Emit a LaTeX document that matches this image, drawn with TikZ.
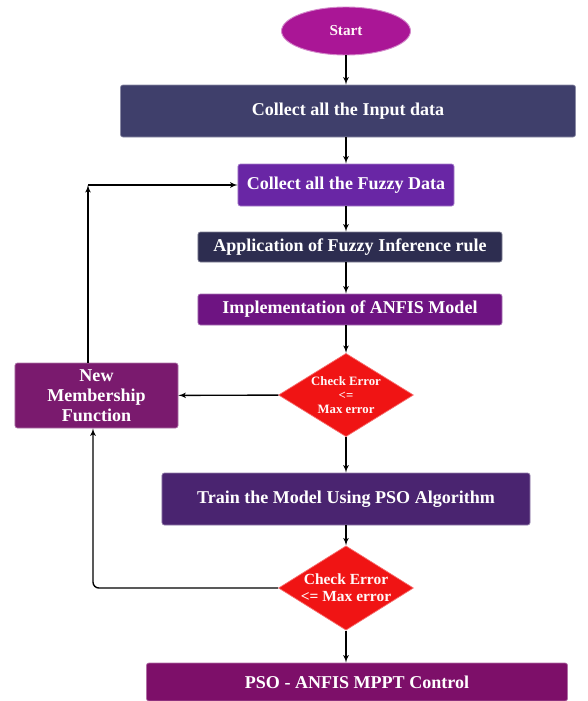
\documentclass[tikz,border=0pt]{standalone}
\usepackage{fontspec}
\setmainfont{Liberation Serif}
\usepackage{tikz}
\usetikzlibrary{arrows, shapes.geometric}

\definecolor{startc}{RGB}{170,22,150}
\definecolor{inputc}{RGB}{63,63,107}
\definecolor{fuzzyc}{RGB}{105,38,165}
\definecolor{inferc}{RGB}{45,45,80}
\definecolor{anfisc}{RGB}{110,20,130}
\definecolor{checkc}{RGB}{240,20,20}
\definecolor{nmfc}{RGB}{122,26,110}
\definecolor{trainc}{RGB}{74,36,112}
\definecolor{finalc}{RGB}{125,15,105}

\begin{document}
\begin{tikzpicture}[->, >=latex', line width = 1.2pt, x = 0.03cm, y = -0.03cm,
                    font = \bfseries\fontsize{15.4}{17}\selectfont]
  \tikzstyle{block} = [rectangle, rounded corners = 2pt, text = white, inner sep = 0pt,
                       line width = 0.6pt, align = center]
  \tikzstyle{check} = [diamond, aspect = 1.6, inner sep = 0pt, fill = checkc,
                       draw = checkc!60!white, line width = 0.6pt, text = white!90!pink,
                       align = center, minimum width = 4.05cm, minimum height = 2.5cm]
  \useasboundingbox (0,0) rectangle (587,701);

  \node[ellipse, fill = startc, draw = startc!50!white, text = white!85!pink, line width = 0.8pt,
        minimum width = 3.87cm, minimum height = 1.44cm, inner sep = 0pt,
        font = \bfseries\fontsize{13}{15}\selectfont] (start) at (346,31) {Start};
  \node[block, fill = inputc, draw = inputc!60!white, minimum width = 13.65cm, minimum height = 1.56cm]
        (input) at (348,111) {Collect all the Input data};
  \node[block, fill = fuzzyc, draw = fuzzyc!60!white, minimum width = 6.48cm, minimum height = 1.26cm]
        (fuzzy) at (346,185) {Collect all the Fuzzy Data};
  \node[block, fill = inferc, draw = inferc!60!white, minimum width = 9.12cm, minimum height = 0.9cm]
        (infer) at (350,247) {Application of Fuzzy Inference rule};
  \node[block, fill = anfisc, draw = anfisc!60!white, minimum width = 9.12cm, minimum height = 0.93cm]
        (anfis) at (350,309.5) {Implementation of ANFIS Model};
  \node[check, font = \bfseries\fontsize{10.9}{12}\selectfont]
        (check1) at (346,395) {Check Error\\<=\\Max error};
  \node[block, fill = nmfc, draw = nmfc!60!white, minimum width = 4.89cm, minimum height = 1.95cm,
        font = \bfseries\fontsize{15.4}{17}\selectfont]
        (nmf) at (96.5,395.5) {New\\Membership\\Function};
  \node[block, fill = trainc, draw = trainc!60!white, minimum width = 11.04cm, minimum height = 1.56cm]
        (train) at (346,499) {Train the Model Using PSO Algorithm};
  \node[check, minimum height = 2.45cm, font = \bfseries\fontsize{13.2}{14.5}\selectfont]
        (check2) at (346,588) {Check Error\\<= Max error};
  \node[block, fill = finalc, draw = finalc!60!white, minimum width = 12.63cm, minimum height = 1.14cm]
        (final) at (357,682) {PSO - ANFIS MPPT Control};

  \coordinate (up)   at (88,185);
  \coordinate (back) at (93,588);

  \path (start.south)  edge (start |- input.north)
        (input.south -| fuzzy) edge (fuzzy.north)
        (fuzzy.south)  edge (fuzzy |- infer.north)
        (infer.south -| fuzzy) edge (fuzzy |- anfis.north)
        (anfis.south -| fuzzy) edge (check1.north)
        (check1) edge (nmf)
        (check1) edge (train)
        (train)  edge (check2)
        (check2) edge (check2 |- final.north);
  \draw (nmf.north -| up) -- (up);
  \draw (up) -- (fuzzy);
  \draw[rounded corners = 5pt] (check2) -- (back) -- (nmf.south -| back);

\end{tikzpicture}
\end{document}
